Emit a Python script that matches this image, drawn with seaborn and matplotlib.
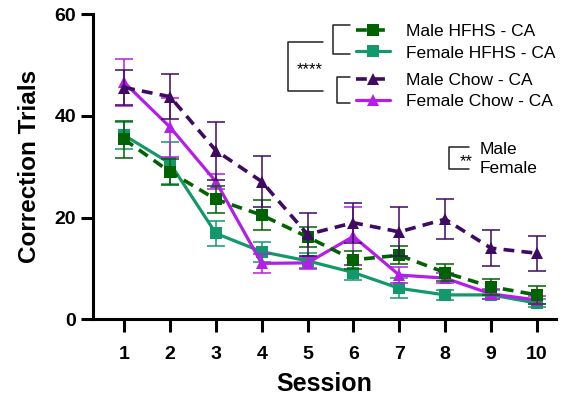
import matplotlib
matplotlib.use('Agg')
import matplotlib.pyplot as plt
from matplotlib.lines import Line2D
import seaborn as sns
import pandas as pd

# datos (media y SEM por sesion)
sessions = [1, 2, 3, 4, 5, 6, 7, 8, 9, 10]
male_hfhs = [35.4, 29.0, 23.6, 20.5, 16.2, 11.7, 12.6, 9.2, 6.4, 4.8]
male_hfhs_sem = [3.7, 2.6, 2.6, 3.0, 2.0, 1.8, 1.8, 1.7, 1.6, 1.7]
female_hfhs = [36.2, 30.7, 16.9, 13.3, 11.5, 9.2, 6.1, 4.8, 4.8, 3.2]
female_hfhs_sem = [2.7, 4.1, 2.5, 2.0, 1.5, 1.5, 2.0, 1.0, 0.9, 0.8]
male_chow = [45.6, 43.8, 33.2, 27.1, 16.7, 19.0, 17.2, 19.7, 14.0, 13.0]
male_chow_sem = [3.4, 4.4, 5.7, 5.1, 4.2, 3.9, 4.8, 4.0, 3.5, 3.4]
female_chow = [46.6, 37.8, 27.1, 11.0, 11.1, 16.3, 8.7, 8.1, 5.0, 3.8]
female_chow_sem = [4.6, 5.8, 1.5, 1.8, 1.2, 5.7, 1.5, 1.0, 1.0, 0.8]

labels = ['Male HFHS - CA', 'Female HFHS - CA', 'Male Chow - CA', 'Female Chow - CA']

sns.set_style('ticks')
plt.rcParams['font.family'] = ['Liberation Sans', 'DejaVu Sans']
plt.rcParams.update({'text.color': 'black', 'axes.labelcolor': 'black',
                     'xtick.color': 'black', 'ytick.color': 'black',
                     'axes.edgecolor': 'black'})

fig = plt.figure(figsize=(5.63, 3.98), dpi=100)
ax = fig.add_axes([93 / 563, 1 - 319.3 / 398, (556 - 93) / 563, (319.3 - 14.3) / 398])

series = [
    # nombre, media, sem, color, marcador, discontinua, orden
    (labels[1], female_hfhs, female_hfhs_sem, '#12996b', 's', False, 2),
    (labels[3], female_chow, female_chow_sem, '#b51ee8', '^', False, 3),
    (labels[0], male_hfhs, male_hfhs_sem, '#006200', 's', True, 4),
    (labels[2], male_chow, male_chow_sem, '#3e0a62', '^', True, 5),
]

for nombre, media, sem, color, marca, disc, z in series:
    datos = pd.DataFrame({'Session': sessions, 'Trials': media})
    ax.errorbar(sessions, media, yerr=sem, fmt='none', ecolor=color, elinewidth=1.3,
                capsize=6.5, capthick=1.3, alpha=0.85, zorder=z)
    sns.lineplot(data=datos, x='Session', y='Trials', ax=ax, color=color, marker=marca,
                 markersize=9, markeredgewidth=0, linewidth=2.6 if disc else 2.3,
                 linestyle=(0, (3, 2)) if disc else '-', label=nombre, zorder=z + 0.5)
handles_all, labels_all = ax.get_legend_handles_labels()
h = {l: handles_all[labels_all.index(l)] for l in labels}

ax.set_xlim(0.32, 10.42)
ax.set_ylim(0, 60)
ax.set_xticks(sessions)
ax.set_yticks([0, 20, 40, 60])
for s in ['top', 'right']:
    ax.spines[s].set_visible(False)
for s in ['left', 'bottom']:
    ax.spines[s].set_linewidth(2.2)
ax.tick_params(axis='both', width=2.2, length=9, labelsize=14)
ax.tick_params(axis='x', pad=10)
ax.tick_params(axis='y', pad=3)
for t in ax.get_xticklabels() + ax.get_yticklabels():
    t.set_fontweight('bold')
ax.set_xlabel('Session', fontsize=18, fontweight='bold', labelpad=7)
ax.set_ylabel('Correction Trials', fontsize=17.5, fontweight='bold', labelpad=10)

# leyenda en dos bloques (HFHS y Chow)
opts = dict(loc='upper left', bbox_transform=fig.transFigure, frameon=False, fontsize=12.5,
            borderpad=0, borderaxespad=0, handlelength=1.95, handletextpad=0.95,
            labelspacing=0.36)
leg1 = ax.legend([h[labels[0]], h[labels[1]]], labels[:2],
                 bbox_to_anchor=(356 / 563, 1 - 24 / 398), **opts)
ax.add_artist(leg1)
ax.legend([h[labels[2]], h[labels[3]]], labels[2:],
          bbox_to_anchor=(356 / 563, 1 - 72.5 / 398), **opts)


def px(x, y):
    return x / 563, 1 - y / 398


def bracket(x0, x1, y0, y1):
    (a, b), (c, d) = px(x0, y0), px(x1, y1)
    fig.add_artist(Line2D([c, a, a, c], [b, b, d, d], color='#222222', linewidth=1.1,
                          transform=fig.transFigure))


# corchetes de significancia
bracket(333, 350, 25, 54)
bracket(337, 350, 77, 103)
bracket(288, 323, 42, 91)
fig.text(*px(310, 70), '****', fontsize=12, ha='center', va='center')

bracket(449, 469, 147, 169)
fig.text(*px(466, 162), '**', fontsize=12, ha='center', va='center')
fig.text(*px(480, 150), 'Male', fontsize=12.5, ha='left', va='center')
fig.text(*px(480, 168), 'Female', fontsize=12.5, ha='left', va='center')

fig.savefig('out.png', dpi=100)
